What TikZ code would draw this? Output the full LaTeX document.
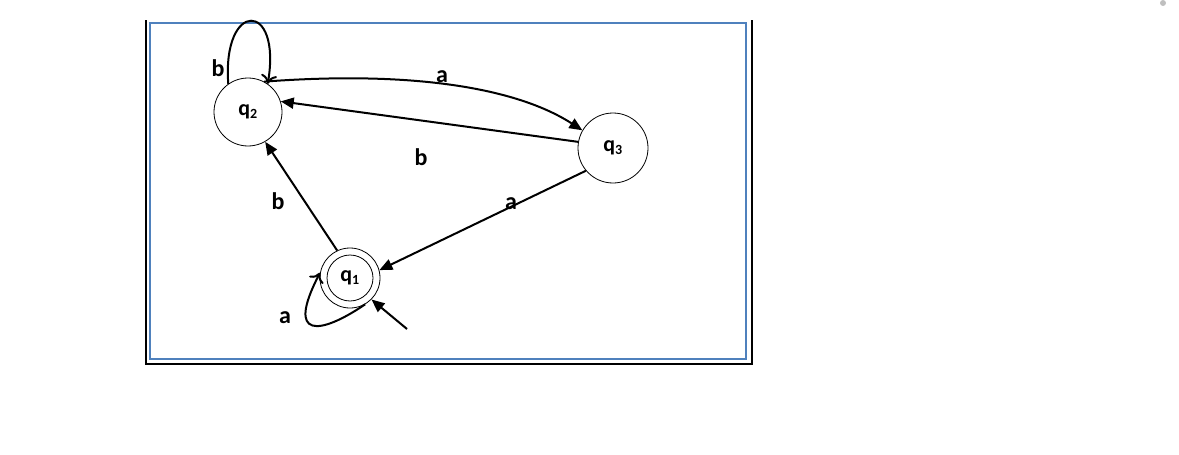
\documentclass[tikz,border=0pt]{standalone}
\usepackage{fontspec}
\setmainfont{Carlito}
\usetikzlibrary{arrows.meta}
\begin{document}
\begin{tikzpicture}[x=1pt,y=-1pt,
  st/.style={circle,draw,line width=0.8pt,minimum size=68pt,inner sep=0pt,font=\bfseries\fontsize{22}{22}\selectfont},
  lbl/.style={font=\bfseries\fontsize{24}{24}\selectfont},
  ed/.style={line width=2pt,-{Triangle[length=13pt,width=11pt]}},
  op/.style={line width=2pt,-{To[length=9pt,width=16pt]}}]
\useasboundingbox (0,0) rectangle (1179,455);
\fill[gray!50] (1163,3) circle (3);
\draw[line width=1.8pt] (146,20) -- (146,364) -- (752,364) -- (752,20);
\draw[line width=2pt,color={rgb,255:red,79;green,129;blue,189}] (150,23) rectangle (746,359);
\node[st] (q2) at (248,112) {q\textsubscript{\fontsize{14}{14}\selectfont 2}};
\node[st,minimum size=70pt] (q3) at (613,148) {q\textsubscript{\fontsize{14}{14}\selectfont 3}};
\node[st,minimum size=60pt] (q1) at (350,278) {};
\node[st,minimum size=46pt] (q1i) at (350,278) {q\textsubscript{\fontsize{14}{14}\selectfont 1}};
\coordinate (init) at (407,329);
\draw[op] (q2.125) .. controls (222,0) and (282,0) .. (q2.55);
\draw[ed] (q2.62) .. controls (420,70) and (520,90) .. (q3.150);
\draw[ed] (q3.170) -- (q2.18);
\draw[ed] (q1.115) -- (q2.-60);
\draw[ed] (q3.-140) -- (q1.15);
\draw[op] (q1.-60) .. controls (320,335) and (285,340) .. (q1.170);
\draw[ed] (init) -- (q1.-45);
\node[lbl] (l1) at (218,68) {b};
\node[lbl] (l2) at (442,77) {a};
\node[lbl] (l3) at (421,157) {b};
\node[lbl] (l4) at (278,201) {b};
\node[lbl] (l5) at (511,204) {a};
\node[lbl] (l6) at (285,318) {a};
\end{tikzpicture}
\end{document}
